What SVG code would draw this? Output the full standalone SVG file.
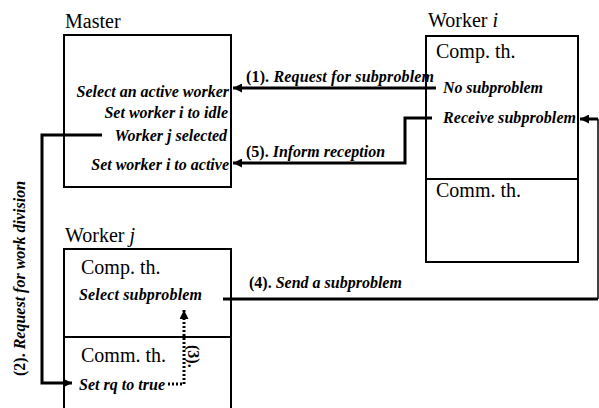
<svg xmlns="http://www.w3.org/2000/svg" width="599" height="408" viewBox="0 0 599 408">
<defs>
<style>
.box{fill:none;stroke:#000;stroke-width:2}
.title{font-family:"Liberation Serif",serif;font-size:20px;fill:#000}
.th{font-family:"Liberation Serif",serif;font-size:20px;fill:#000}
.lab{font-family:"Liberation Serif",serif;font-size:16px;font-style:italic;font-weight:bold;fill:#000}
.num{font-family:"Liberation Serif",serif;font-size:16px;font-weight:bold;fill:#000}
.conn{fill:none;stroke:#000;stroke-width:3}
.thin{fill:none;stroke:#000;stroke-width:1.5}
.dot{fill:none;stroke:#000;stroke-width:3;stroke-dasharray:2 2}
</style>
<marker id="ah2" viewBox="0 0 10 10" refX="10" refY="5" markerWidth="10" markerHeight="9" orient="auto" markerUnits="userSpaceOnUse">
<path d="M0,0 L10,5 L0,10 z" fill="#000"/>
</marker>
</defs>
<rect width="599" height="408" fill="#fff"/>
<g id="master">
<text class="title" x="65" y="28">Master</text>
<rect class="box" x="64" y="35" width="167" height="152"/>
<text class="lab" x="229" y="97" text-anchor="end">Select an active worker</text>
<text class="lab" x="228" y="118" text-anchor="end">Set worker i to idle</text>
<text class="lab" x="227" y="141" text-anchor="end">Worker j selected</text>
<text class="lab" x="229" y="170" text-anchor="end">Set worker i to active</text>
</g>
<g id="worker-i">
<text class="title" x="428" y="27">Worker  <tspan font-style="italic">i</tspan></text>
<rect class="box" x="426" y="36" width="152" height="226"/>
<line class="box" x1="426" y1="179" x2="578" y2="179"/>
<text class="th" x="436" y="58">Comp. th.</text>
<text class="lab" x="443" y="93" textLength="100">No subproblem</text>
<text class="lab" x="443" y="123" textLength="133">Receive subproblem</text>
<text class="th" x="436" y="197">Comm. th.</text>
</g>
<g id="worker-j">
<text class="title" x="65" y="242">Worker   <tspan font-style="italic">j</tspan></text>
<rect class="box" x="64" y="249" width="167" height="170"/>
<line class="box" x1="64" y1="337" x2="231" y2="337"/>
<text class="th" x="81" y="274">Comp. th.</text>
<text class="lab" x="79" y="300" textLength="123">Select subproblem</text>
<text class="th" x="81" y="362">Comm. th.</text>
<text class="lab" x="79" y="390" textLength="86">Set rq to true</text>
</g>
<g id="connectors">
<polyline class="conn" points="436,88 233,88" marker-end="url(#ah2)"/>
<text x="246" y="82" textLength="188"><tspan class="num">(1). </tspan><tspan class="lab">Request for subproblem</tspan></text>
<polyline class="conn" points="432,118 405,118 405,163 233,163" marker-end="url(#ah2)"/>
<text x="246" y="157"><tspan class="num">(5). </tspan><tspan class="lab">Inform reception</tspan></text>
<polyline class="conn" points="102,135 42,135 42,383 72,383" marker-end="url(#ah2)"/>
<text transform="translate(25,376) rotate(-90)"><tspan class="num" font-size="15">(2). </tspan><tspan class="lab" font-size="15">Request for work division</tspan></text>
<polyline class="dot" points="168,384 184,384 184,310" marker-end="url(#ah2)"/>
<text class="num" font-size="14" transform="translate(188,345) rotate(90)">(3).</text>
<polyline class="conn" points="223,299 598,299"/>
<polyline class="thin" points="598,299 598,119"/>
<polyline class="conn" points="598,119 580,119" marker-end="url(#ah2)"/>
<text x="249" y="288"><tspan class="num">(4). </tspan><tspan class="lab">Send a subproblem</tspan></text>
</g>
</svg>
